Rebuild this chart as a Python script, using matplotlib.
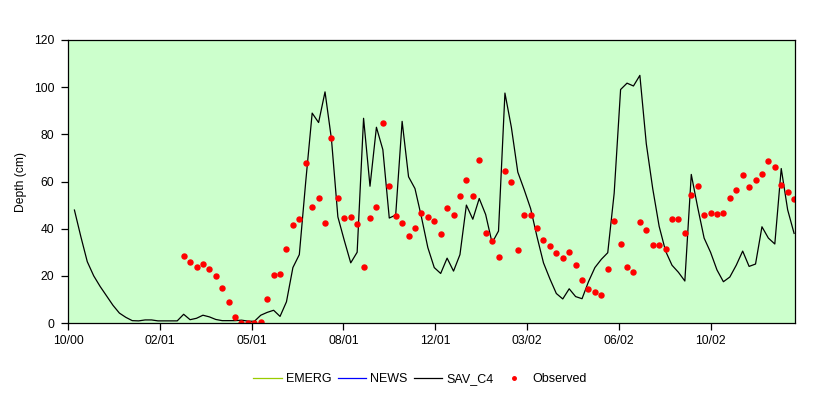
"""
Simulated vs observed water depth (SAV_C4 run) with weekly observations
"""
import numpy as np
import pandas as pd
import matplotlib
matplotlib.use('Agg')
import matplotlib.pyplot as plt

plt.rcParams['font.family'] = ['Liberation Sans', 'DejaVu Sans']

# axis starts here, ticks every 100 days
axis_start = pd.Timestamp('2000-10-31')
tick_labels = ['10/00', '02/01', '05/01', '08/01', '12/01', '03/02', '06/02', '10/02']

# simulated depth (cm), weekly from 2000-11-07
sav_start = '2000-11-07'
sav_c4 = [47.9, 36.6, 26.0, 20.0, 15.5, 11.5, 7.5, 4.2, 2.4, 1.0,
          0.9, 1.3, 1.3, 0.9, 0.9, 0.9, 0.9, 3.7, 1.4, 2.0,
          3.3, 2.6, 1.5, 1.0, 1.0, 1.0, 1.2, 0.8, 0.7, 3.3,
          4.5, 5.4, 2.8, 9.0, 23.5, 29.0, 60.0, 89.0, 85.0, 98.0,
          78.0, 45.0, 35.0, 25.5, 30.0, 86.8, 58.0, 83.0, 73.5, 44.5,
          45.8, 85.5, 62.0, 57.0, 45.0, 32.0, 23.5, 21.0, 27.5, 22.0,
          29.0, 50.0, 44.0, 52.8, 46.0, 34.0, 39.0, 97.5, 83.0, 64.0,
          56.5, 48.5, 36.5, 25.5, 18.7, 12.5, 10.2, 14.5, 11.2, 10.3,
          17.5, 23.5, 27.0, 29.8, 55.0, 99.0, 101.7, 100.5, 105.0, 76.0,
          57.0, 41.0, 30.5, 24.5, 21.5, 17.8, 63.0, 49.0, 36.0, 30.0,
          22.5, 17.5, 19.5, 24.5, 30.5, 24.0, 25.0, 40.8, 36.0, 33.5,
          65.5, 48.0, 38.0]

# observed depth (cm), weekly from 2001-03-06
obs_start = '2001-03-06'
observed = [28.5, 26.0, 23.9, 25.1, 22.9, 20.1, 15.0, 9.0, 2.7, 0.1,
            0.1, 0.1, 0.6, 10.3, 20.5, 20.9, 31.5, 41.7, 44.2, 68.0,
            49.3, 53.1, 42.5, 78.6, 53.1, 44.7, 45.1, 42.1, 23.9, 44.7,
            49.3, 84.9, 58.2, 45.5, 42.5, 37.0, 40.4, 46.8, 45.1, 43.4,
            37.9, 48.9, 45.9, 54.0, 60.8, 54.0, 69.3, 38.3, 34.9, 28.1,
            64.6, 59.9, 31.1, 45.9, 45.9, 40.4, 35.3, 32.8, 29.8, 27.7,
            30.2, 24.7, 18.4, 14.5, 13.3, 12.0, 23.0, 43.4, 33.6, 23.9,
            21.8, 43.0, 39.6, 33.2, 33.2, 31.5, 44.2, 44.2, 38.3, 54.4,
            58.2, 45.9, 46.8, 46.4, 46.8, 53.1, 56.5, 62.9, 57.8, 60.8,
            63.3, 68.8, 66.3, 58.7, 55.7, 52.7]

sav_dates = pd.date_range(sav_start, periods=len(sav_c4), freq='7D')
obs_dates = pd.date_range(obs_start, periods=len(observed), freq='7D')

fig = plt.figure(figsize=(8.31, 3.98), dpi=100)
ax = fig.add_axes([68/831, 1-323/398, (795-68)/831, (323-40)/398])
ax.set_facecolor('#CCFFCC')

# EMERG and NEWS have no values in this window, kept for the legend
ax.plot([], [], color='#99CC00', lw=0.9, label='EMERG')
ax.plot([], [], color='#0000FF', lw=0.9, label='NEWS')
ax.plot(sav_dates, sav_c4, color='black', lw=0.9, label='SAV_C4')
ax.plot(obs_dates, observed, ls='none', marker='o', ms=3.6, mfc='#FF0000',
        mec='#FF0000', label='Observed')

ax.set_ylim(0, 120)
ax.set_yticks(np.arange(0, 121, 20))
ax.set_xlim(axis_start, axis_start + pd.Timedelta(days=792))
ticks = [axis_start + pd.Timedelta(days=100*k) for k in range(len(tick_labels))]
ax.set_xticks(ticks)
ax.set_xticklabels(tick_labels)

for s in ax.spines.values():
    s.set_linewidth(0.9)
ax.tick_params(axis='both', direction='out', length=5, width=0.9,
               labelsize=8.7, top=False, right=False)
ax.tick_params(axis='x', pad=4)
ax.tick_params(axis='y', pad=5)
ax.set_ylabel('Depth (cm)', fontsize=8.7, labelpad=5)

fig.legend(loc='center', bbox_to_anchor=(420/831, 1-379/398), ncol=4,
           frameon=False, fontsize=9, handlelength=2.25, handletextpad=0.35,
           columnspacing=0.5, markerscale=0.7)

fig.savefig('out.png', dpi=100)
